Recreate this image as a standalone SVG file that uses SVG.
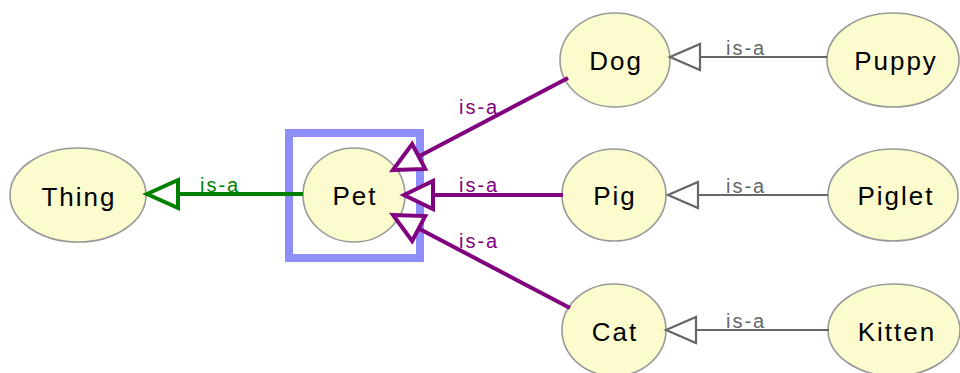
<svg xmlns="http://www.w3.org/2000/svg" width="960" height="373" viewBox="0 0 960 373">
  <style>
    .node ellipse { fill: #fbfbcd; stroke: #999999; stroke-width: 1.6; }
    .node text { font-family: "Liberation Sans", Arial, sans-serif; font-size: 26px; letter-spacing: 2px; fill: #000; text-anchor: middle; }
    .lbl { font-family: "Liberation Sans", Arial, sans-serif; font-size: 20px; letter-spacing: 2px; }
    .gray { stroke: #666666; stroke-width: 2.2; fill: none; }
    .purple { stroke: #800080; stroke-width: 4; fill: none; }
    .green { stroke: #008000; stroke-width: 4; fill: none; }
  </style>
  <defs>
    <marker id="triGray" markerUnits="userSpaceOnUse" markerWidth="40" markerHeight="40" refX="0" refY="0" orient="auto" overflow="visible">
      <path d="M0,0 L30,-13 L30,13 Z" fill="#ffffff" stroke="#666666" stroke-width="2.2"/>
    </marker>
    <marker id="triPurple" markerUnits="userSpaceOnUse" markerWidth="40" markerHeight="40" refX="0" refY="0" orient="auto" overflow="visible">
      <path d="M0,0 L29,-14 L29,14 Z" fill="#ffffff" stroke="#800080" stroke-width="4"/>
    </marker>
    <marker id="triGreen" markerUnits="userSpaceOnUse" markerWidth="40" markerHeight="40" refX="0" refY="0" orient="auto" overflow="visible">
      <path d="M0,0 L31,-14 L31,14 Z" fill="#ffffff" stroke="#008000" stroke-width="4"/>
    </marker>
  </defs>

  <!-- selection frame around Pet -->
  <rect x="289" y="133" width="131" height="125" fill="none" stroke="#8e8ef8" stroke-width="8"/>

  <g id="nodes">
    <g id="thing" class="node"><ellipse cx="78" cy="195" rx="68" ry="47"/><text x="79" y="206">Thing</text></g>
    <g id="pet" class="node"><ellipse cx="354" cy="195" rx="51" ry="47"/><text x="355" y="205">Pet</text></g>
    <g id="dog" class="node"><ellipse cx="615" cy="60" rx="55" ry="47"/><text x="616" y="70">Dog</text></g>
    <g id="pig" class="node"><ellipse cx="614" cy="195" rx="52" ry="46"/><text x="615" y="205">Pig</text></g>
    <g id="cat" class="node"><ellipse cx="614" cy="330" rx="52" ry="46"/><text x="615" y="341">Cat</text></g>
    <g id="puppy" class="node"><ellipse cx="893" cy="60" rx="66" ry="47"/><text x="896" y="70">Puppy</text></g>
    <g id="piglet" class="node"><ellipse cx="893" cy="195" rx="65" ry="46"/><text x="896" y="205">Piglet</text></g>
    <g id="kitten" class="node"><ellipse cx="894" cy="330" rx="66" ry="46"/><text x="897" y="341">Kitten</text></g>
  </g>

  <g id="connectors">
    <!-- Pet is-a Thing -->
    <line class="green" x1="147" y1="194" x2="303" y2="194" marker-start="url(#triGreen)"/>
    <text class="lbl" x="200" y="192" fill="#008000">is-a</text>

    <!-- Dog / Pig / Cat is-a Pet -->
    <line class="purple" x1="393" y1="170" x2="568" y2="78" marker-start="url(#triPurple)"/>
    <text class="lbl" x="459" y="114" fill="#800080">is-a</text>
    <line class="purple" x1="404" y1="195" x2="563" y2="195" marker-start="url(#triPurple)"/>
    <text class="lbl" x="459" y="192" fill="#800080">is-a</text>
    <line class="purple" x1="393" y1="215" x2="570" y2="308" marker-start="url(#triPurple)"/>
    <text class="lbl" x="459" y="248" fill="#800080">is-a</text>

    <!-- Puppy / Piglet / Kitten -->
    <line class="gray" x1="670" y1="57" x2="827" y2="57" marker-start="url(#triGray)"/>
    <text class="lbl" x="726" y="55" fill="#666666">is-a</text>
    <line class="gray" x1="668" y1="195" x2="828" y2="195" marker-start="url(#triGray)"/>
    <text class="lbl" x="726" y="193" fill="#666666">is-a</text>
    <line class="gray" x1="666" y1="330" x2="829" y2="330" marker-start="url(#triGray)"/>
    <text class="lbl" x="726" y="328" fill="#666666">is-a</text>
  </g>
</svg>
